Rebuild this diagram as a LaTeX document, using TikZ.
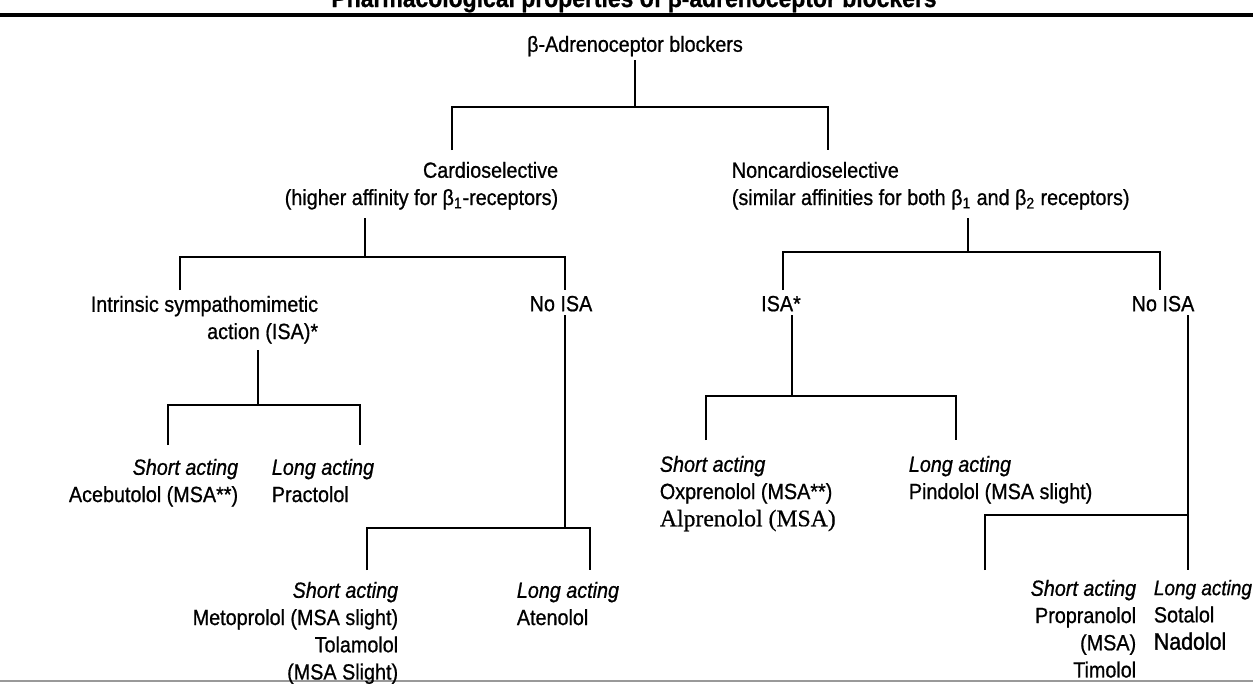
\documentclass[tikz,border=0pt]{standalone}
\usepackage{fontspec}
\setmainfont{Liberation Sans}[FakeStretch=0.9, FakeBold=0.8]
\newfontfamily\alpfont{Liberation Serif}[FakeBold=0.6]
\newfontfamily\nadfont{Liberation Sans}[FakeStretch=0.9, FakeBold=1.4]
\usetikzlibrary{positioning}

\tikzset{
  lbl/.style={inner sep=2pt, font=\fontsize{12.5}{15.5}\selectfont},
  link/.style={line width=1.1pt},
}

\begin{document}
\begin{tikzpicture}[x=0.02cm, y=-0.02cm]
    \useasboundingbox (0,0) rectangle (1253,683);

    % titulo y reglas
    \draw[line width=0.6pt, black!40] (0,681) -- (1253,681);
    \node[lbl, anchor=base, font=\bfseries\fontsize{14.5}{16}\selectfont] (title) at (634,7)
        {Pharmacological properties of β-adrenoceptor blockers};
    \draw[line width=2pt] (0,15) -- (1253,15);

    % raiz
    \node[lbl, anchor=north] (root) at (635,32) {β-Adrenoceptor blockers};
    \coordinate (j0) at (635,107);
    \coordinate (c0) at (452,150);
    \coordinate (n0) at (828,150);
    \draw[link] (root) -- (j0);
    \draw[link] (c0) |- (j0) -| (n0);

    % primer nivel
    \node[lbl, anchor=north east, align=right] (cardio) at (562,158)
        {Cardioselective\\(higher affinity for β\textsubscript{1}-receptors)};
    \node[lbl, anchor=north west, align=left] (noncard) at (728,158)
        {Noncardioselective\\(similar affinities for both β\textsubscript{1} and β\textsubscript{2} receptors)};

    % cardioselectivos
    \coordinate (c1) at (365,218);
    \coordinate (j1) at (365,257);
    \coordinate (c1a) at (180,290);
    \coordinate (c1b) at (565,290);
    \draw[link] (c1) -- (j1);
    \draw[link] (c1a) |- (j1) -| (c1b);

    \node[lbl, anchor=north east, align=right] (isaL) at (322,292)
        {Intrinsic sympathomimetic\\action (ISA)*};
    \node[lbl, anchor=north] (noisaL) at (561,292) {No ISA};

    \coordinate (c2) at (258,350);
    \coordinate (j2) at (258,405);
    \coordinate (c2a) at (168,445);
    \coordinate (c2b) at (360,445);
    \draw[link] (c2) -- (j2);
    \draw[link] (c2a) |- (j2) -| (c2b);

    \node[lbl, anchor=north east, align=right] (shortA) at (242,455)
        {\itshape Short acting\\Acebutolol (MSA**)};
    \node[lbl, anchor=north west, align=left] (longA) at (268,455)
        {\itshape Long acting\\Practolol};

    \coordinate (j3) at (565,528);
    \coordinate (c3a) at (367,570);
    \coordinate (c3b) at (590,570);
    \draw[link] (noisaL.south -| j3) -- (j3);
    \draw[link] (c3a) |- (j3) -| (c3b);

    \node[lbl, anchor=north east, align=right] (shortB) at (402,578)
        {\itshape Short acting\\Metoprolol (MSA slight)\\Tolamolol\\(MSA Slight)};
    \node[lbl, anchor=north west, align=left] (longB) at (513,578)
        {\itshape Long acting\\Atenolol};

    % no cardioselectivos
    \coordinate (n1) at (968,218);
    \coordinate (k1) at (968,252);
    \coordinate (n1a) at (783,290);
    \coordinate (n1b) at (1160,290);
    \draw[link] (n1) -- (k1);
    \draw[link] (n1a) |- (k1) -| (n1b);

    \node[lbl, anchor=north] (isaR) at (781,292) {ISA*};
    \node[lbl, anchor=north] (noisaR) at (1163,292) {No ISA};

    \coordinate (k2) at (792,396);
    \coordinate (n2a) at (706,440);
    \coordinate (n2b) at (956,440);
    \draw[link] (isaR.south -| k2) -- (k2);
    \draw[link] (n2a) |- (k2) -| (n2b);

    \node[lbl, anchor=north west, align=left] (shortC) at (656,452)
        {\itshape Short acting\\Oxprenolol (MSA**)\\{\alpfont\fontsize{13.5}{15.5}\selectfont Alprenolol (MSA)}};
    \node[lbl, anchor=north west, align=left] (longC) at (905,452)
        {\itshape Long acting\\Pindolol (MSA slight)};

    \coordinate (k3) at (1188,515);
    \coordinate (n3a) at (985,570);
    \coordinate (n3b) at (1188,570);
    \draw[link] (noisaR.south -| k3) -- (n3b);
    \draw[link] (n3a) |- (k3);

    \node[lbl, anchor=north east, align=right] (shortD) at (1140,576)
        {\itshape Short acting\\Propranolol\\(MSA)\\Timolol};
    \node[lbl, anchor=north west, align=left] (longD) at (1150,576)
        {{\itshape\fontsize{12}{15.5}\selectfont Long acting}\\Sotalol\\{\nadfont\fontsize{13.5}{15.5}\selectfont Nadolol}};

\end{tikzpicture}
\end{document}
